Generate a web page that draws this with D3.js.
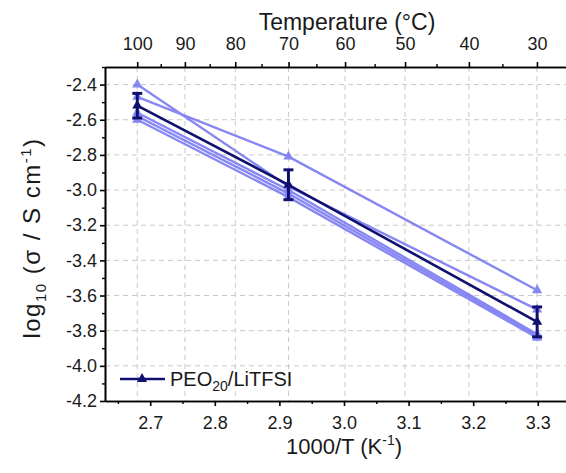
<!DOCTYPE html>
<meta charset="utf-8">
<body style="margin:0">
<div id="chart"></div>
</body>
<style>
	svg { font-family: "Liberation Sans", Arial, sans-serif; display: block; }
	.axis path, .axis line { stroke: #000; stroke-width: 1.6; }
	.minor line { stroke: #000; stroke-width: 1.4; }
</style>
<script src="https://cdn.jsdelivr.net/npm/d3@7"></script>
<script>

// values
var invT = [2.680, 2.914, 3.299];          // 1000/T of the three temperatures (100, 70, 30 C)
var runs = [
	[-2.40, -2.98, -3.68],
	[-2.47, -2.81, -3.57],
	[-2.56, -3.00, -3.82],
	[-2.58, -3.02, -3.83],
	[-2.60, -3.04, -3.84]
];
var meanVals = [-2.52, -2.97, -3.75];
var errVals = [0.07, 0.085, 0.085];

var xTicks = [2.7, 2.8, 2.9, 3.0, 3.1, 3.2, 3.3];
var xMinor = [2.65, 2.75, 2.85, 2.95, 3.05, 3.15, 3.25, 3.35];
var yTicks = [-2.4, -2.6, -2.8, -3.0, -3.2, -3.4, -3.6, -3.8, -4.0, -4.2];
var yMinor = [-2.3, -2.5, -2.7, -2.9, -3.1, -3.3, -3.5, -3.7, -3.9, -4.1];
var tempTicks = [100, 90, 80, 70, 60, 50, 40, 30];
var tempMinor = [95, 85, 75, 65, 55, 45, 35];

var width = 566,
	height = 473;
// plot box (right side runs past the picture edge, as in the original)
var pLeft = 105, pRight = 583, pTop = 67, pBottom = 401;

var lightCol = "#7373f2",
	darkCol = "#10106f";

var svg = d3.select("#chart").append("svg")
	.attr("width", width)
	.attr("height", height);

var x = d3.scaleLinear().domain([2.63, 3.37]).range([pLeft, pRight]);
var y = d3.scaleLinear().domain([-4.2, -2.3]).range([pBottom, pTop]);

// Celsius -> 1000/T position
function cToX(t) {
	return 1000 / (t + 273.15);
}

// grid
svg.append("g").selectAll("line")
	.data(yTicks.slice(0, -1))
	.enter().append("line")
	.attr("x1", pLeft).attr("x2", pRight)
	.attr("y1", d => y(d)).attr("y2", d => y(d))
	.attr("stroke", "#c9c9c9").attr("stroke-dasharray", "5,4");

svg.append("g").selectAll("line")
	.data(tempTicks)
	.enter().append("line")
	.attr("x1", d => x(cToX(d))).attr("x2", d => x(cToX(d)))
	.attr("y1", pTop).attr("y2", pBottom)
	.attr("stroke", "#c9c9c9").attr("stroke-dasharray", "5,4");

// axes
svg.append("g").attr("class", "axis")
	.attr("transform", "translate(0," + pBottom + ")")
	.call(d3.axisBottom(x).tickValues(xTicks).tickFormat(d3.format(".1f"))
		.tickSize(5).tickSizeOuter(0).tickPadding(10));
svg.append("g").attr("class", "axis minor")
	.attr("transform", "translate(0," + pBottom + ")")
	.call(d3.axisBottom(x).tickValues(xMinor).tickFormat("").tickSize(3).tickSizeOuter(0));

svg.append("g").attr("class", "axis")
	.attr("transform", "translate(0," + pTop + ")")
	.call(d3.axisTop(x).tickValues(tempTicks.map(cToX))
		.tickFormat((d, i) => tempTicks[i])
		.tickSize(5).tickSizeOuter(0).tickPadding(12));
svg.append("g").attr("class", "axis minor")
	.attr("transform", "translate(0," + pTop + ")")
	.call(d3.axisTop(x).tickValues(tempMinor.map(cToX)).tickFormat("").tickSize(3).tickSizeOuter(0));

svg.append("g").attr("class", "axis")
	.attr("transform", "translate(" + pLeft + ",0)")
	.call(d3.axisLeft(y).tickValues(yTicks).tickFormat(d3.format(".1f"))
		.tickSize(5).tickSizeOuter(0).tickPadding(3));
svg.append("g").attr("class", "axis minor")
	.attr("transform", "translate(" + pLeft + ",0)")
	.call(d3.axisLeft(y).tickValues(yMinor).tickFormat("").tickSize(3).tickSizeOuter(0));

// plain hyphen minus like the plot, and the bigger label size
svg.selectAll(".axis text")
	.style("font-size", "18px")
	.attr("fill", "#1a1a1a")
	.text(function () {
		return d3.select(this).text().replace("−", "-");
	});

// titles
svg.append("text")
	.attr("x", 347).attr("y", 30)
	.attr("text-anchor", "middle")
	.style("font-size", "23px").attr("fill", "#1a1a1a")
	.text("Temperature (°C)");

var xt = svg.append("text")
	.attr("x", 344).attr("y", 454)
	.attr("text-anchor", "middle")
	.style("font-size", "22px").attr("fill", "#1a1a1a");
xt.append("tspan").text("1000/T (K");
xt.append("tspan").attr("dy", -9).style("font-size", "14px").text("-1");
xt.append("tspan").attr("dy", 9).text(")");

var yt = svg.append("text")
	.attr("transform", "translate(40,238) rotate(-90)")
	.attr("text-anchor", "middle")
	.style("font-size", "24px").style("letter-spacing", "1.5px").attr("fill", "#1a1a1a");
yt.append("tspan").text("log");
yt.append("tspan").attr("dy", 6).style("font-size", "15px").text("10");
yt.append("tspan").attr("dy", -6).text(" (σ / S cm");
yt.append("tspan").attr("dy", -9).style("font-size", "15px").text("-1");
yt.append("tspan").attr("dy", 9).text(")");

// series
var line = d3.line()
	.x((d, i) => x(invT[i]))
	.y(d => y(d));
var tri = d3.symbol().type(d3.symbolTriangle).size(45);

var runG = svg.append("g").attr("opacity", 0.85);
runs.forEach(function (r) {
	runG.append("path")
		.attr("d", line(r))
		.attr("fill", "none")
		.attr("stroke", lightCol)
		.attr("stroke-width", 2.4);
	runG.selectAll(null)
		.data(r)
		.enter().append("path")
		.attr("d", tri)
		.attr("transform", (d, i) => "translate(" + x(invT[i]) + "," + y(d) + ")")
		.attr("fill", lightCol);
});

svg.append("path")
	.attr("d", line(meanVals))
	.attr("fill", "none")
	.attr("stroke", darkCol)
	.attr("stroke-width", 2.6);

var eb = svg.append("g").attr("stroke", darkCol).attr("stroke-width", 3);
meanVals.forEach(function (m, i) {
	var cx = x(invT[i]);
	var y1 = y(m + errVals[i]), y2 = y(m - errVals[i]);
	eb.append("line").attr("x1", cx).attr("x2", cx).attr("y1", y1).attr("y2", y2);
	eb.append("line").attr("x1", cx - 5).attr("x2", cx + 5).attr("y1", y1).attr("y2", y1);
	eb.append("line").attr("x1", cx - 5).attr("x2", cx + 5).attr("y1", y2).attr("y2", y2);
});

svg.append("g").selectAll("path")
	.data(meanVals)
	.enter().append("path")
	.attr("d", tri)
	.attr("transform", (d, i) => "translate(" + x(invT[i]) + "," + y(d) + ")")
	.attr("fill", darkCol);

// legend
svg.append("line")
	.attr("x1", 120).attr("x2", 165).attr("y1", 379).attr("y2", 379)
	.attr("stroke", darkCol).attr("stroke-width", 2.6);
svg.append("path")
	.attr("d", tri)
	.attr("transform", "translate(142,379)")
	.attr("fill", darkCol);
var lt = svg.append("text")
	.attr("x", 170).attr("y", 386)
	.style("font-size", "20px").attr("fill", "#1a1a1a");
lt.append("tspan").text("PEO");
lt.append("tspan").attr("dy", 5).style("font-size", "14px").text("20");
lt.append("tspan").attr("dy", -5).text("/LiTFSI");

</script>
